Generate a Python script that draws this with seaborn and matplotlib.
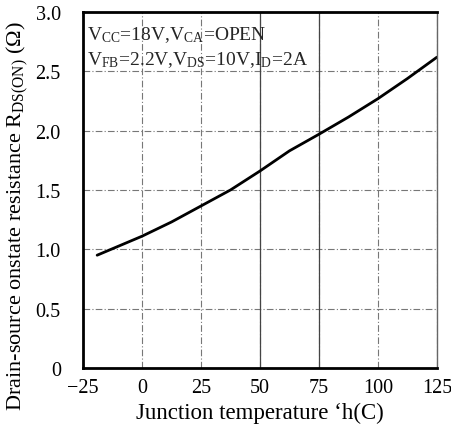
import matplotlib
matplotlib.use("Agg")
import matplotlib.pyplot as plt
import seaborn as sns
import pandas as pd

# On-resistance vs junction temperature
temperature_c = [-19, 0, 12.5, 25, 37.5, 50, 62.5, 75, 87.5, 100, 112.5, 125]
rds_on_ohm = [0.95, 1.11, 1.23, 1.365, 1.50, 1.66, 1.83, 1.97, 2.115, 2.27, 2.44, 2.62]

x_ticks = [-25, 0, 25, 50, 75, 100, 125]
x_tick_labels = ["\u221225", "0", "25", "50", "75", "100", "125"]
y_ticks = [0, 0.5, 1.0, 1.5, 2.0, 2.5, 3.0]
y_tick_labels = ["0", "0.5", "1.0", "1.5", "2.0", "2.5", "3.0"]

sns.set_theme(style="white")
plt.rcParams["font.family"] = ["Liberation Serif", "DejaVu Serif"]
plt.rcParams["mathtext.fontset"] = "custom"
plt.rcParams["mathtext.rm"] = "Liberation Serif"
plt.rcParams["mathtext.it"] = "Liberation Serif:italic"

df = pd.DataFrame({"T": temperature_c, "R": rds_on_ohm})

fig = plt.figure(figsize=(4.51, 4.35), dpi=100)
ax = fig.add_axes([0.184, 0.152, 0.785, 0.818])

sns.lineplot(data=df, x="T", y="R", ax=ax, color="black", linewidth=2.0)

ax.set_xlim(-25, 125)
ax.set_ylim(0, 3.0)
ax.set_xticks(x_ticks)
ax.set_xticklabels(x_tick_labels)
ax.set_yticks(y_ticks)
ax.set_yticklabels(y_tick_labels)
ax.tick_params(axis="both", length=0, labelsize=14.5, colors="black")
ax.tick_params(axis="y", pad=16)
ax.tick_params(axis="x", pad=7)

# dash-dot grid
ax.grid(True, linestyle=(0, (6, 2, 1, 2)), color="#777777", linewidth=0.8)
for xv in (50, 75):
    ax.axvline(xv, color="#444444", linewidth=0.9, zorder=1)

for side in ("left", "bottom", "top"):
    ax.spines[side].set_color("black")
    ax.spines[side].set_linewidth(2.0)
ax.spines["right"].set_color("#666666")
ax.spines["right"].set_linewidth(1.0)

ax.set_xlabel("Junction temperature \u2018h(C)", fontsize=16.5, color="black")
ax.set_ylabel(r"Drain-source onstate resistance R$_{\rm DS(ON)}$ ($\Omega$)",
              fontsize=16, color="black")
ax.xaxis.set_label_coords(0.5, -0.095)
ax.yaxis.set_label_coords(-0.15, 0.43)

ax.text(0.012, 0.965, r"V$_{\rm CC}$=18V,V$_{\rm CA}$=OPEN",
        transform=ax.transAxes, fontsize=14, va="top", ha="left")
ax.text(0.012, 0.895, r"V$_{\rm FB}$=2.2V,V$_{\rm DS}$=10V,I$_{\rm D}$=2A",
        transform=ax.transAxes, fontsize=14, va="top", ha="left")

fig.savefig("out.png", dpi=100)
